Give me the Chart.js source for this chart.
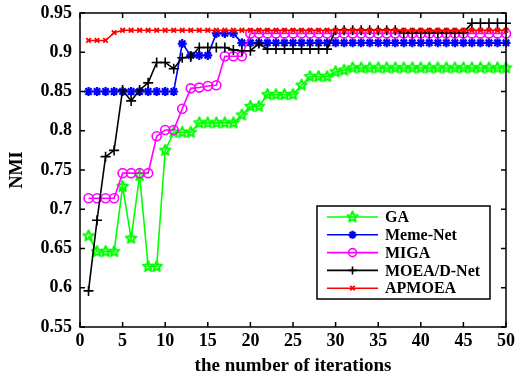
<!DOCTYPE html>
<html>
<head>
<meta charset="utf-8">
<title>NMI vs iterations</title>
<script src="https://cdn.jsdelivr.net/npm/chart.js@4.4.1/dist/chart.umd.min.js"></script>
<style>
  html, body { margin: 0; padding: 0; background: #fff; }
  #wrap { width: 518px; height: 379px; }
</style>
</head>
<body>
<div id="wrap"><canvas id="nmiChart" width="518" height="379"></canvas></div>
<script>
// iterations on the x axis
const iterations = [1, 2, 3, 4, 5, 6, 7, 8, 9, 10, 11, 12, 13, 14, 15, 16, 17, 18, 19, 20,
  21, 22, 23, 24, 25, 26, 27, 28, 29, 30, 31, 32, 33, 34, 35, 36, 37, 38, 39, 40,
  41, 42, 43, 44, 45, 46, 47, 48, 49, 50];

// NMI per iteration for each algorithm
const gaNmi = [0.666, 0.646, 0.646, 0.646, 0.729, 0.663, 0.743, 0.627, 0.627, 0.775,
  0.798, 0.798, 0.798, 0.810, 0.810, 0.810, 0.810, 0.810, 0.820, 0.831,
  0.831, 0.846, 0.846, 0.846, 0.846, 0.858, 0.869, 0.869, 0.869, 0.875,
  0.877, 0.880, 0.880, 0.880, 0.880, 0.880, 0.880, 0.880, 0.880, 0.880,
  0.880, 0.880, 0.880, 0.880, 0.880, 0.880, 0.880, 0.880, 0.880, 0.880];

const memeNetNmi = [0.850, 0.850, 0.850, 0.850, 0.850, 0.850, 0.850, 0.850, 0.850, 0.850,
  0.850, 0.911, 0.896, 0.896, 0.896, 0.924, 0.924, 0.924, 0.912, 0.912,
  0.912, 0.912, 0.912, 0.912, 0.912, 0.912, 0.912, 0.912, 0.912, 0.912,
  0.912, 0.912, 0.912, 0.912, 0.912, 0.912, 0.912, 0.912, 0.912, 0.912,
  0.912, 0.912, 0.912, 0.912, 0.912, 0.912, 0.912, 0.912, 0.912, 0.912];

const migaNmi = [0.714, 0.714, 0.714, 0.714, 0.746, 0.746, 0.746, 0.746, 0.793, 0.801,
  0.801, 0.828, 0.854, 0.855, 0.857, 0.858, 0.895, 0.895, 0.895, 0.924,
  0.924, 0.924, 0.924, 0.924, 0.924, 0.924, 0.924, 0.924, 0.924, 0.924,
  0.924, 0.924, 0.924, 0.924, 0.924, 0.924, 0.924, 0.924, 0.924, 0.924,
  0.924, 0.924, 0.924, 0.924, 0.924, 0.924, 0.924, 0.924, 0.924, 0.924];

const moeadNetNmi = [0.596, 0.686, 0.767, 0.775, 0.852, 0.838, 0.852, 0.861, 0.887, 0.887,
  0.879, 0.893, 0.894, 0.906, 0.906, 0.906, 0.906, 0.903, 0.902, 0.902,
  0.911, 0.904, 0.904, 0.904, 0.904, 0.904, 0.904, 0.904, 0.904, 0.928,
  0.928, 0.928, 0.928, 0.928, 0.928, 0.928, 0.928, 0.925, 0.925, 0.925,
  0.925, 0.925, 0.925, 0.925, 0.925, 0.937, 0.937, 0.937, 0.937, 0.937];

const apmoeaNmi = [0.915, 0.915, 0.915, 0.925, 0.928, 0.928, 0.928, 0.928, 0.928, 0.928,
  0.928, 0.928, 0.928, 0.928, 0.928, 0.928, 0.928, 0.928, 0.928, 0.928,
  0.928, 0.928, 0.928, 0.928, 0.928, 0.928, 0.928, 0.928, 0.928, 0.928,
  0.928, 0.928, 0.928, 0.928, 0.928, 0.928, 0.928, 0.928, 0.928, 0.928,
  0.928, 0.928, 0.928, 0.928, 0.928, 0.928, 0.928, 0.928, 0.928, 0.928];

const seriesNames = ['GA', 'Meme-Net', 'MIGA', 'MOEA/D-Net', 'APMOEA'];

const SERIF = "'Liberation Serif', 'Times New Roman', serif";

// five-pointed star marker, drawn once into a small canvas
function makePentagram(color, r, lw) {
  const size = Math.ceil(2 * r + 2 * lw + 2);
  const c = document.createElement('canvas');
  c.width = c.height = size;
  const g = c.getContext('2d');
  const cx = size / 2, cy = size / 2;
  g.beginPath();
  for (let i = 0; i < 10; i++) {
    const rad = i % 2 === 0 ? r : r * 0.45;
    const a = -Math.PI / 2 + i * Math.PI / 5;
    const px = cx + rad * Math.cos(a);
    const py = cy + rad * Math.sin(a);
    if (i === 0) g.moveTo(px, py); else g.lineTo(px, py);
  }
  g.closePath();
  g.lineWidth = lw;
  g.lineJoin = 'round';
  g.strokeStyle = color;
  g.stroke();
  return c;
}

const starGreen = makePentagram('#00ff00', 5.5, 2);

function toPoints(ys) {
  return iterations.map((x, i) => ({ x: x, y: ys[i] }));
}

function series(label, ys, color, pointStyle, radius, markerWidth, order) {
  return {
    label: label,
    data: toPoints(ys),
    borderColor: color,
    backgroundColor: 'rgba(0,0,0,0)',
    pointBorderColor: color,
    pointBackgroundColor: 'rgba(0,0,0,0)',
    borderWidth: 1.6,
    pointBorderWidth: markerWidth,
    pointStyle: pointStyle,
    pointRadius: radius,
    tension: 0,
    clip: false,
    order: order
  };
}

// axes box with inward tick marks on all four sides
const boxTicks = {
  id: 'boxTicks',
  afterDatasetsDraw(chart) {
    const { ctx, chartArea: a, scales } = chart;
    const len = 5;
    ctx.save();
    ctx.strokeStyle = '#000';
    ctx.lineWidth = 1.5;
    ctx.beginPath();
    scales.x.ticks.forEach(t => {
      const px = scales.x.getPixelForValue(t.value);
      ctx.moveTo(px, a.bottom); ctx.lineTo(px, a.bottom - len);
      ctx.moveTo(px, a.top); ctx.lineTo(px, a.top + len);
    });
    scales.y.ticks.forEach(t => {
      const py = scales.y.getPixelForValue(t.value);
      ctx.moveTo(a.left, py); ctx.lineTo(a.left + len, py);
      ctx.moveTo(a.right, py); ctx.lineTo(a.right - len, py);
    });
    ctx.stroke();
    ctx.strokeRect(a.left, a.top, a.right - a.left, a.bottom - a.top);
    ctx.restore();
  }
};

// legend box in the lower right of the plot
const boxLegend = {
  id: 'boxLegend',
  afterDraw(chart, args, opts) {
    const { ctx } = chart;
    const sets = seriesNames.map(n => chart.data.datasets.find(d => d.label === n));
    ctx.save();
    ctx.fillStyle = '#fff';
    ctx.fillRect(opts.x, opts.y, opts.w, opts.h);
    ctx.strokeStyle = '#000';
    ctx.lineWidth = 1.5;
    ctx.strokeRect(opts.x, opts.y, opts.w, opts.h);
    ctx.font = 'bold 16px ' + SERIF;
    ctx.textBaseline = 'middle';
    ctx.textAlign = 'left';
    sets.forEach((ds, i) => {
      const y = opts.y + opts.first + i * opts.step;
      const x0 = opts.x + opts.lineStart;
      const x1 = x0 + opts.lineLen;
      ctx.strokeStyle = ds.borderColor;
      ctx.lineWidth = ds.borderWidth;
      ctx.beginPath();
      ctx.moveTo(x0, y); ctx.lineTo(x1, y);
      ctx.stroke();
      ctx.strokeStyle = ds.pointBorderColor;
      ctx.fillStyle = ds.pointBackgroundColor;
      ctx.lineWidth = ds.pointBorderWidth;
      Chart.helpers.drawPoint(ctx, {
        pointStyle: ds.pointStyle,
        radius: Math.min(ds.pointRadius, 4),
        rotation: 0,
        borderWidth: ds.pointBorderWidth
      }, (x0 + x1) / 2, y);
      ctx.fillStyle = '#000';
      ctx.fillText(ds.label, x1 + 7, y + 1);
    });
    ctx.restore();
  }
};

new Chart(document.getElementById('nmiChart'), {
  type: 'line',
  data: {
    datasets: [
      series('GA', gaNmi, '#00ff00', starGreen, 5.5, 2, 5),
      series('Meme-Net', memeNetNmi, '#0000ff', 'star', 4.5, 2.2, 4),
      series('MIGA', migaNmi, '#ff00ff', 'circle', 4.5, 1.6, 3),
      series('MOEA/D-Net', moeadNetNmi, '#000000', 'cross', 5, 1.6, 2),
      series('APMOEA', apmoeaNmi, '#ff0000', 'crossRot', 3.2, 1.8, 1)
    ]
  },
  options: {
    responsive: false,
    animation: false,
    layout: { padding: { top: 13, right: 12, left: 0, bottom: 0 } },
    plugins: {
      legend: { display: false },
      tooltip: { enabled: false },
      boxLegend: { x: 317, y: 206, w: 173, h: 93, first: 11, step: 17.8, lineStart: 10, lineLen: 51 }
    },
    scales: {
      x: {
        type: 'linear',
        min: 0,
        max: 50,
        grid: { display: false, drawTicks: false },
        border: { display: false },
        ticks: {
          stepSize: 5,
          padding: 4,
          color: '#000',
          maxRotation: 0,
          font: { family: SERIF, size: 18, weight: 'bold' }
        },
        title: {
          display: true,
          text: 'the number of iterations',
          color: '#000',
          padding: { top: 0, bottom: 2 },
          font: { family: SERIF, size: 19, weight: 'bold' }
        },
        afterFit(scale) {
          scale.height = 52;
          scale.paddingLeft = 0;
          scale.paddingRight = 0;
        }
      },
      y: {
        min: 0.55,
        max: 0.95,
        grid: { display: false, drawTicks: false },
        border: { display: false },
        ticks: {
          stepSize: 0.05,
          padding: 8,
          color: '#000',
          font: { family: SERIF, size: 18, weight: 'bold' },
          callback: v => Number(v.toFixed(2)).toString()
        },
        title: {
          display: true,
          text: 'NMI',
          color: '#000',
          padding: { top: 7, bottom: 0 },
          font: { family: SERIF, size: 18, weight: 'bold' }
        },
        afterFit(scale) {
          scale.width = 80;
          scale.paddingTop = 0;
          scale.paddingBottom = 0;
        }
      }
    }
  },
  plugins: [boxTicks, boxLegend]
});
</script>
</body>
</html>
